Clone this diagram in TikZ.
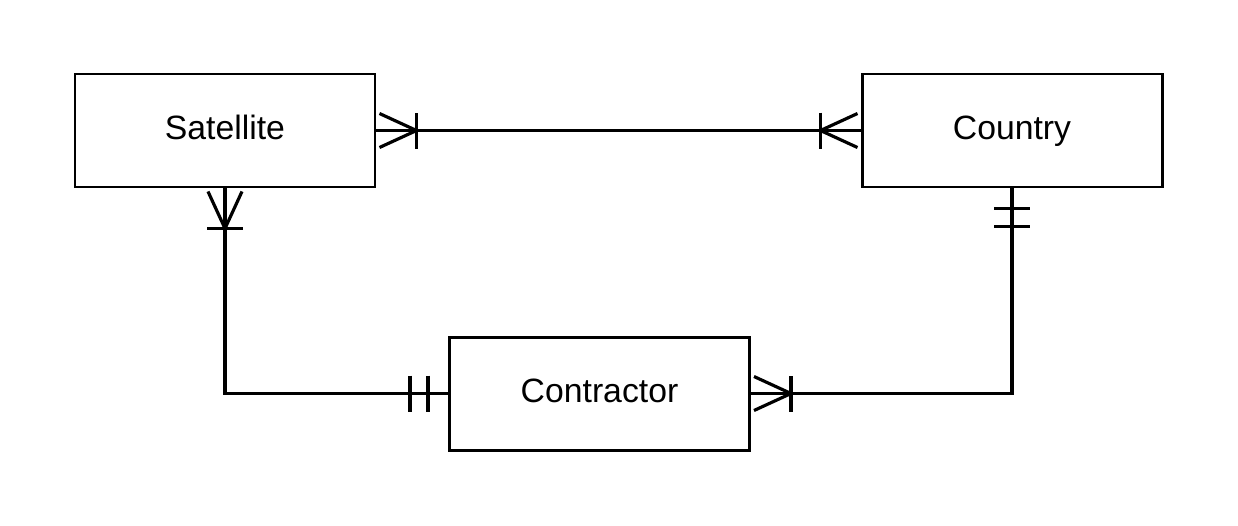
\documentclass[tikz,border=0pt]{standalone}
\usepackage{fontspec}
\setmainfont{Liberation Sans}
\tikzset{
  entity/.style={draw,line width=0.85pt,minimum width=3cm,minimum height=1.13cm,
    inner sep=0pt,text height=0.72em,text depth=0.21em,
    font=\fontsize{9.6}{11}\selectfont},
  crowfoot/.pic={
    \draw (0.4,0) -- (0.03,0.17) (0.4,0) -- (0.03,-0.17);
    \draw (0.4,-0.18) -- (0.4,0.18);
  },
  onlyone/.pic={
    \draw (0.2,-0.18) -- (0.2,0.18) (0.38,-0.18) -- (0.38,0.18);
  }
}
\begin{document}
\begin{tikzpicture}[line width=0.9pt]
  \useasboundingbox (0,0) rectangle (12.38,-5.25);
  \node[entity] (sat) at (2.25,-1.305) {Satellite};
  \node[entity] (cty) at (10.12,-1.305) {Country};
  \node[entity] (con) at (5.995,-3.935) {Contractor};
  % relationships
  \draw (sat.east) -- (cty.west);
  \draw (sat.south) |- (con.west);
  \draw (cty.south) |- (con.east);
  % cardinality marks
  \pic at (sat.east) {crowfoot};
  \pic[rotate=180] at (cty.west) {crowfoot};
  \pic[rotate=-90] at (sat.south) {crowfoot};
  \pic at (con.east) {crowfoot};
  \pic[rotate=180] at (con.west) {onlyone};
  \pic[rotate=-90] at (cty.south) {onlyone};
\end{tikzpicture}
\end{document}
